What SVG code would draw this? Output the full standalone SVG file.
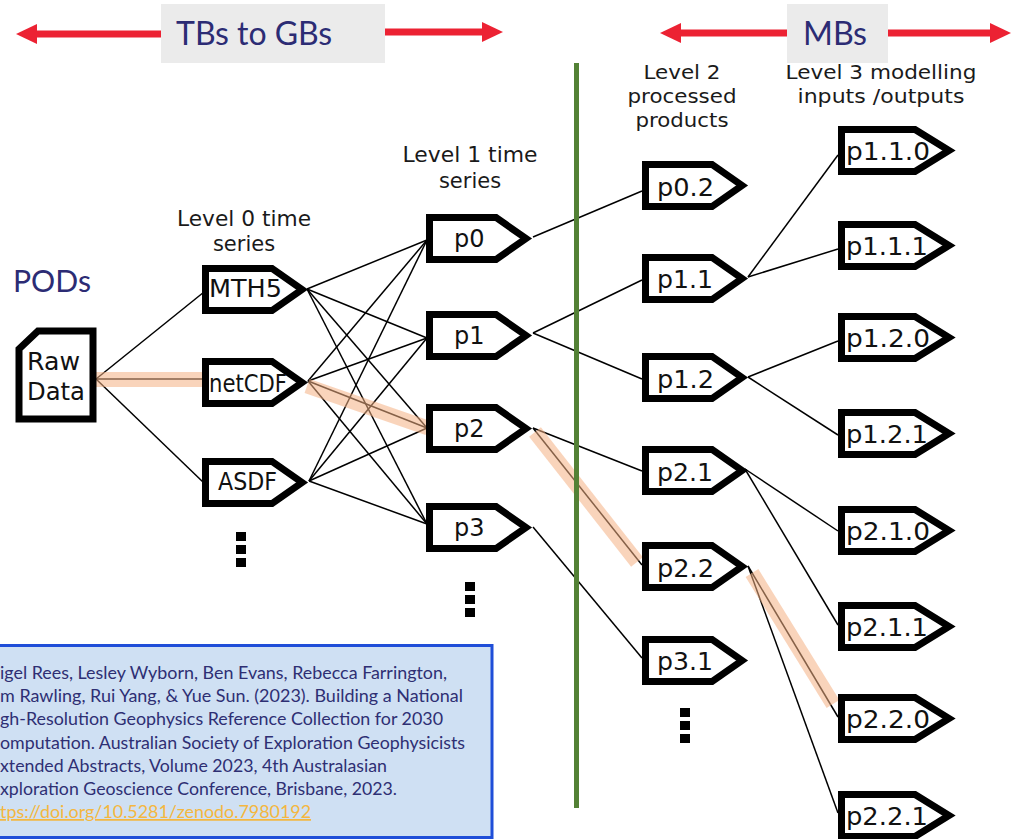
<svg xmlns="http://www.w3.org/2000/svg" width="1017" height="839" viewBox="0 0 1017 839">
<style>
.shape{fill:#fff;stroke:#000;stroke-width:7;stroke-linejoin:miter}
.lbl{font-family:"DejaVu Sans",Verdana,sans-serif;font-size:24px;fill:#111}
.hdr{font-family:"DejaVu Sans",Verdana,sans-serif;fill:#1a1a1a;text-anchor:middle}
.big{font-family:Lato,"Open Sans",sans-serif;fill:#2C2C74}
.conn line{stroke:#000;stroke-width:1.5}
.band{stroke:#F4B183;stroke-opacity:0.55;stroke-width:15;stroke-linecap:butt}
.arrow{fill:#EC2233}
.cite{font-family:Lato,"Open Sans",sans-serif;font-size:17.5px;fill:#2E2F73}
</style>
<defs>
<path id="tag" class="shape" d="M3.5,3.5 H70 L100,24.5 L70,45.5 H3.5 Z"/>
<path id="tag3" class="shape" d="M3.5,3.5 H77 L111,24.5 L77,45.5 H3.5 Z"/>
</defs>
<rect width="1017" height="839" fill="#fff"/>

<!-- top banners -->
<g id="banner-tb">
<rect x="36" y="30.5" width="126" height="7" class="arrow"/>
<polygon points="16,34 37,24 37,44" class="arrow"/>
<rect x="384" y="28.5" width="99" height="7" class="arrow"/>
<polygon points="503,32 482,22 482,42" class="arrow"/>
<rect x="161" y="4" width="224" height="59" fill="#EBEBEB"/>
<text x="176" y="45" class="big" font-size="33" textLength="156" lengthAdjust="spacingAndGlyphs">TBs to GBs</text>
</g>
<g id="banner-mb">
<rect x="680" y="29.5" width="108" height="7" class="arrow"/>
<polygon points="660,33 681,23 681,43" class="arrow"/>
<rect x="887" y="29.5" width="104" height="7" class="arrow"/>
<polygon points="1011,33 990,23 990,43" class="arrow"/>
<rect x="787" y="4" width="101" height="59" fill="#EBEBEB"/>
<text x="803" y="45" class="big" font-size="33" textLength="64" lengthAdjust="spacingAndGlyphs">MBs</text>
</g>

<text x="13" y="292" class="big" font-size="31" textLength="78" lengthAdjust="spacingAndGlyphs">PODs</text>

<!-- headers -->
<g id="headers">
<text class="hdr" font-size="21" x="244" y="226" textLength="134" lengthAdjust="spacingAndGlyphs">Level 0 time</text>
<text class="hdr" font-size="21" x="244" y="251">series</text>
<text class="hdr" font-size="21" x="470" y="162" textLength="135" lengthAdjust="spacingAndGlyphs">Level 1 time</text>
<text class="hdr" font-size="21" x="470" y="188">series</text>
<text class="hdr" font-size="19" x="682" y="79" textLength="77" lengthAdjust="spacingAndGlyphs">Level 2</text>
<text class="hdr" font-size="19" x="682" y="103" textLength="109" lengthAdjust="spacingAndGlyphs">processed</text>
<text class="hdr" font-size="19" x="682" y="127" textLength="93" lengthAdjust="spacingAndGlyphs">products</text>
<text class="hdr" font-size="19" x="881" y="79" textLength="191" lengthAdjust="spacingAndGlyphs">Level 3 modelling</text>
<text class="hdr" font-size="19" x="881" y="103" textLength="167" lengthAdjust="spacingAndGlyphs">inputs /outputs</text>
</g>

<!-- connectors -->
<g id="connectors" class="conn">
<line x1="96" y1="379" x2="204" y2="292"/>
<line x1="96" y1="379" x2="204" y2="379"/>
<line x1="96" y1="379" x2="204" y2="483"/>
<line x1="307" y1="289" x2="427" y2="240"/>
<line x1="307" y1="289" x2="427" y2="338"/>
<line x1="307" y1="289" x2="427" y2="428"/>
<line x1="307" y1="289" x2="427" y2="524"/>
<line x1="308" y1="381" x2="427" y2="240"/>
<line x1="308" y1="381" x2="427" y2="338"/>
<line x1="308" y1="381" x2="427" y2="428"/>
<line x1="308" y1="381" x2="427" y2="524"/>
<line x1="309" y1="481" x2="427" y2="240"/>
<line x1="309" y1="481" x2="427" y2="338"/>
<line x1="309" y1="481" x2="427" y2="428"/>
<line x1="309" y1="481" x2="427" y2="524"/>
<line x1="533" y1="237" x2="642" y2="191"/>
<line x1="533" y1="333" x2="642" y2="280"/>
<line x1="533" y1="333" x2="642" y2="379"/>
<line x1="533" y1="428" x2="642" y2="471"/>
<line x1="533" y1="428" x2="642" y2="565"/>
<line x1="533" y1="527" x2="642" y2="658"/>
<line x1="748" y1="277" x2="838" y2="155"/>
<line x1="748" y1="277" x2="838" y2="249"/>
<line x1="748" y1="377" x2="838" y2="341"/>
<line x1="748" y1="377" x2="838" y2="435"/>
<line x1="745" y1="469" x2="838" y2="531"/>
<line x1="745" y1="469" x2="838" y2="625"/>
<line x1="748" y1="566" x2="838" y2="717"/>
<line x1="748" y1="566" x2="838" y2="813"/>
</g>

<!-- highlighted path -->
<g id="highlight">
<line class="band" x1="96" y1="379.5" x2="203" y2="379.5"/>
<line class="band" x1="307" y1="386" x2="428" y2="428"/>
<line class="band" x1="535" y1="432" x2="637" y2="562" stroke-width="16"/>
<line class="band" x1="752" y1="573" x2="833" y2="704" stroke-width="16"/>
</g>

<line id="divider" x1="576.5" y1="63" x2="576.5" y2="808" stroke="#538135" stroke-width="5"/>

<!-- nodes -->
<g id="raw-data">
<path class="shape" stroke-width="6" d="M19,349 L38,331 H93 V419 H19 Z"/>
<text class="lbl" x="27" y="370" textLength="53" lengthAdjust="spacingAndGlyphs">Raw</text>
<text class="lbl" x="27" y="400" textLength="58" lengthAdjust="spacingAndGlyphs">Data</text>
</g>
<g id="mth5"><use href="#tag" x="202" y="265"/><text class="lbl" x="209" y="297" textLength="73" lengthAdjust="spacingAndGlyphs">MTH5</text></g>
<g id="netcdf"><use href="#tag" x="202" y="358"/><text class="lbl" x="209" y="392" textLength="78" lengthAdjust="spacingAndGlyphs">netCDF</text></g>
<g id="asdf"><use href="#tag" x="202" y="458"/><text class="lbl" x="218" y="490" textLength="59" lengthAdjust="spacingAndGlyphs">ASDF</text></g>

<g id="p0"><use href="#tag" x="426" y="214"/><text class="lbl" x="454" y="247">p0</text></g>
<g id="p1"><use href="#tag" x="426" y="311"/><text class="lbl" x="454" y="344">p1</text></g>
<g id="p2"><use href="#tag" x="426" y="404"/><text class="lbl" x="454" y="437">p2</text></g>
<g id="p3"><use href="#tag" x="426" y="503"/><text class="lbl" x="454" y="536">p3</text></g>

<g id="p0.2"><use href="#tag" x="642" y="161"/><text class="lbl" x="657" y="196" textLength="57" lengthAdjust="spacingAndGlyphs">p0.2</text></g>
<g id="p1.1"><use href="#tag" x="642" y="254"/><text class="lbl" x="657" y="288" textLength="56" lengthAdjust="spacingAndGlyphs">p1.1</text></g>
<g id="p1.2"><use href="#tag" x="642" y="353"/><text class="lbl" x="657" y="388" textLength="57" lengthAdjust="spacingAndGlyphs">p1.2</text></g>
<g id="p2.1"><use href="#tag" x="642" y="446"/><text class="lbl" x="657" y="481" textLength="56" lengthAdjust="spacingAndGlyphs">p2.1</text></g>
<g id="p2.2"><use href="#tag" x="642" y="542"/><text class="lbl" x="657" y="577" textLength="57" lengthAdjust="spacingAndGlyphs">p2.2</text></g>
<g id="p3.1"><use href="#tag" x="642" y="636"/><text class="lbl" x="657" y="670" textLength="56" lengthAdjust="spacingAndGlyphs">p3.1</text></g>

<g id="p1.1.0"><use href="#tag3" x="838" y="126"/><text class="lbl" x="846" y="160" textLength="84" lengthAdjust="spacingAndGlyphs">p1.1.0</text></g>
<g id="p1.1.1"><use href="#tag3" x="838" y="221"/><text class="lbl" x="846" y="255" textLength="82" lengthAdjust="spacingAndGlyphs">p1.1.1</text></g>
<g id="p1.2.0"><use href="#tag3" x="838" y="313"/><text class="lbl" x="846" y="347" textLength="84" lengthAdjust="spacingAndGlyphs">p1.2.0</text></g>
<g id="p1.2.1"><use href="#tag3" x="838" y="409"/><text class="lbl" x="846" y="443" textLength="82" lengthAdjust="spacingAndGlyphs">p1.2.1</text></g>
<g id="p2.1.0"><use href="#tag3" x="838" y="506"/><text class="lbl" x="846" y="540" textLength="84" lengthAdjust="spacingAndGlyphs">p2.1.0</text></g>
<g id="p2.1.1"><use href="#tag3" x="838" y="602"/><text class="lbl" x="846" y="636" textLength="82" lengthAdjust="spacingAndGlyphs">p2.1.1</text></g>
<g id="p2.2.0"><use href="#tag3" x="838" y="694"/><text class="lbl" x="846" y="728" textLength="84" lengthAdjust="spacingAndGlyphs">p2.2.0</text></g>
<g id="p2.2.1"><use href="#tag3" x="838" y="791"/><text class="lbl" x="846" y="825" textLength="82" lengthAdjust="spacingAndGlyphs">p2.2.1</text></g>

<!-- ellipsis dots -->
<g id="dots" fill="#000">
<rect x="236" y="532" width="10" height="9"/><rect x="236" y="545" width="10" height="9"/><rect x="236" y="558" width="10" height="9"/>
<rect x="465" y="582" width="10" height="9"/><rect x="465" y="595" width="10" height="9"/><rect x="465" y="608" width="10" height="9"/>
<rect x="680" y="708" width="10" height="9"/><rect x="680" y="721" width="10" height="9"/><rect x="680" y="734" width="10" height="9"/>
</g>

<!-- citation -->
<g id="citation">
<rect x="-5" y="645.5" width="497" height="192" fill="#CFE0F3" stroke="#1F4ED8" stroke-width="3"/>
<text class="cite" x="0" y="679" textLength="447" lengthAdjust="spacingAndGlyphs">igel Rees, Lesley Wyborn, Ben Evans, Rebecca Farrington,</text>
<text class="cite" x="0" y="702" textLength="463" lengthAdjust="spacingAndGlyphs">m Rawling, Rui Yang, &amp; Yue Sun. (2023). Building a National</text>
<text class="cite" x="0" y="725" textLength="443" lengthAdjust="spacingAndGlyphs">gh-Resolution Geophysics Reference Collection for 2030</text>
<text class="cite" x="0" y="749" textLength="465" lengthAdjust="spacingAndGlyphs">omputation. Australian Society of Exploration Geophysicists</text>
<text class="cite" x="0" y="772" textLength="387" lengthAdjust="spacingAndGlyphs">xtended Abstracts, Volume 2023, 4th Australasian</text>
<text class="cite" x="0" y="795" textLength="397" lengthAdjust="spacingAndGlyphs">xploration Geoscience Conference, Brisbane, 2023.</text>
<text class="cite" x="0" y="818" textLength="311" lengthAdjust="spacingAndGlyphs" text-decoration="underline" style="fill:#F4B740">tps://doi.org/10.5281/zenodo.7980192</text>
</g>
</svg>
